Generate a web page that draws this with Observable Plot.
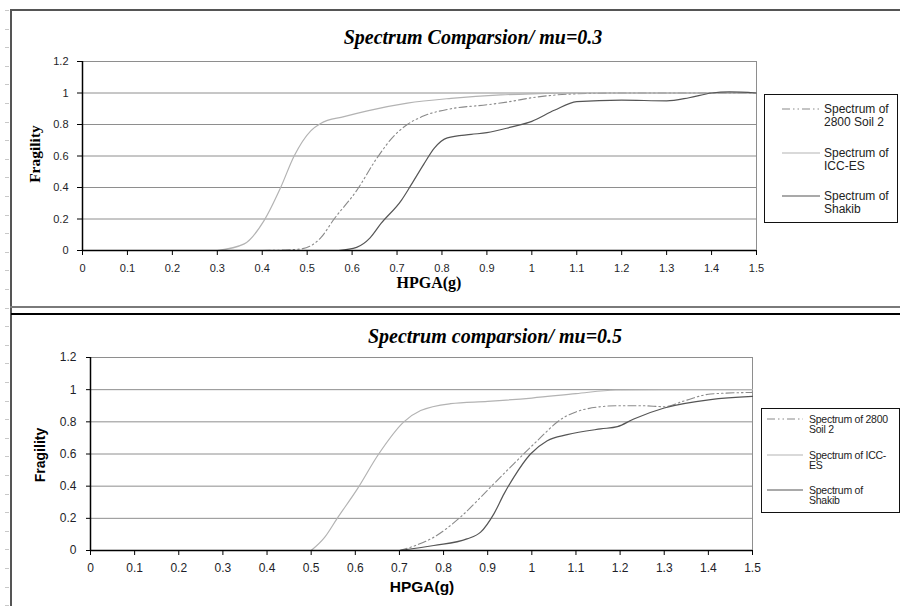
<!DOCTYPE html>
<html><head><meta charset="utf-8">
<script src="https://cdn.jsdelivr.net/npm/d3@7"></script>
<script src="https://cdn.jsdelivr.net/npm/@observablehq/plot@0.6"></script>
<style>
body{margin:0;background:#fff;}
#page{position:relative;width:900px;height:606px;overflow:hidden;background:#fff;font-family:"Liberation Sans",Arial,sans-serif;}
.abs{position:absolute;}
.title{font-family:"Liberation Serif","Times New Roman",serif;font-weight:bold;font-style:italic;font-size:20px;color:#000;white-space:nowrap;transform:translate(-50%,-50%);}
.legend{position:absolute;border:1.5px solid #111;background:#fff;box-sizing:border-box;}
.lg-item{position:absolute;color:#222;white-space:nowrap;}
</style></head><body><div id="page"></div>
<script>
// ---- Data ----
const seriesNames = ["Spectrum of 2800 Soil 2", "Spectrum of ICC-ES", "Spectrum of Shakib"];
const xTicks = [0, 0.1, 0.2, 0.3, 0.4, 0.5, 0.6, 0.7, 0.8, 0.9, 1, 1.1, 1.2, 1.3, 1.4, 1.5];
const xTickLabels = ["0","0.1","0.2","0.3","0.4","0.5","0.6","0.7","0.8","0.9","1","1.1","1.2","1.3","1.4","1.5"];
const yTicks = [0, 0.2, 0.4, 0.6, 0.8, 1, 1.2];
const yTickLabels = ["0","0.2","0.4","0.6","0.8","1","1.2"];

// mu = 0.3 (top)
const top_soil_x = [0.4, 0.45, 0.49, 0.53, 0.56, 0.61, 0.656, 0.694, 0.723, 0.76, 0.82, 0.9, 0.95, 1.0, 1.1, 1.2, 1.3, 1.4, 1.5];
const top_soil_y = [0, 0.003, 0.012, 0.08, 0.2, 0.38, 0.59, 0.73, 0.8, 0.855, 0.9, 0.925, 0.945, 0.97, 0.995, 1.0, 1.0, 1.0, 1.0];
const top_icc_x = [0.3, 0.36, 0.404, 0.441, 0.471, 0.508, 0.53, 0.582, 0.634, 0.723, 0.82, 0.931, 1.0, 1.1, 1.2, 1.3, 1.4, 1.5];
const top_icc_y = [0, 0.042, 0.19, 0.4, 0.6, 0.76, 0.807, 0.85, 0.887, 0.936, 0.966, 0.988, 0.995, 1.0, 1.0, 1.0, 1.0, 1.0];
const top_shk_x = [0.57, 0.61, 0.64, 0.664, 0.71, 0.73, 0.76, 0.783, 0.812, 0.865, 0.9, 0.953, 1.0, 1.05, 1.1, 1.2, 1.3, 1.35, 1.4, 1.44, 1.5];
const top_shk_y = [0, 0.02, 0.08, 0.17, 0.32, 0.41, 0.55, 0.65, 0.715, 0.737, 0.748, 0.783, 0.82, 0.89, 0.945, 0.955, 0.95, 0.97, 1.0, 1.007, 1.0];

// mu = 0.5 (bottom)
const bot_soil_x = [0.7, 0.74, 0.778, 0.838, 0.906, 0.959, 1.005, 1.073, 1.156, 1.194, 1.25, 1.3, 1.345, 1.405, 1.5];
const bot_soil_y = [0, 0.035, 0.083, 0.207, 0.393, 0.539, 0.663, 0.828, 0.894, 0.9, 0.9, 0.894, 0.93, 0.973, 0.983];
const bot_icc_x = [0.5, 0.53, 0.559, 0.604, 0.653, 0.71, 0.748, 0.816, 0.9, 1.0, 1.1, 1.19, 1.3, 1.4, 1.5];
const bot_icc_y = [0, 0.08, 0.2, 0.38, 0.6, 0.8, 0.87, 0.913, 0.927, 0.948, 0.975, 0.998, 1.0, 1.0, 1.0];
const bot_shk_x = [0.7, 0.778, 0.853, 0.884, 0.914, 0.937, 0.959, 0.997, 1.035, 1.08, 1.156, 1.194, 1.231, 1.3, 1.405, 1.5];
const bot_shk_y = [0, 0.031, 0.072, 0.114, 0.228, 0.352, 0.455, 0.6, 0.683, 0.72, 0.756, 0.77, 0.818, 0.886, 0.938, 0.958];

// ---- Styles ----
const styles = [
  {stroke: "#8a8a8a", strokeWidth: 1.1, dash: "8,3,1.5,3,1.5,3"},
  {stroke: "#b3b3b3", strokeWidth: 1.2, dash: null},
  {stroke: "#555555", strokeWidth: 1.2, dash: null}
];

const page = document.getElementById("page");
const zip = (xs, ys, s) => xs.map((x, i) => ({x, y: ys[i], s}));

function makeChart(opt) {
  const data = [
    zip(opt.soil[0], opt.soil[1], 0),
    zip(opt.icc[0], opt.icc[1], 1),
    zip(opt.shk[0], opt.shk[1], 2)
  ];
  const chart = Plot.plot({
    width: 760, height: 300,
    marginLeft: opt.ml, marginRight: opt.mr, marginTop: opt.mt, marginBottom: opt.mb,
    style: {background: "transparent", fontFamily: "Liberation Sans, Arial, sans-serif", fontSize: opt.fs, color: "#1e1e28", overflow: "visible"},
    x: {domain: [0, 1.5], label: null},
    y: {domain: [0, 1.2], label: null},
    marks: [
      Plot.ruleY(yTicks.filter(d => d > 0), {stroke: "#8e8e8e", strokeWidth: 1}),
      Plot.ruleX([1.5], {stroke: "#8e8e8e", strokeWidth: 1}),
      Plot.axisX({ticks: xTicks, tickFormat: d => xTickLabels[xTicks.indexOf(d)], tickSize: 5, tickPadding: opt.xpad, stroke: "#000", label: null}),
      Plot.axisY({ticks: yTicks, tickFormat: d => yTickLabels[yTicks.indexOf(d)], tickSize: opt.ytick, tickPadding: opt.ypad, stroke: "#000", label: null}),
      ...data.map((d, k) => Plot.line(d, {x: "x", y: "y", stroke: styles[k].stroke, strokeWidth: styles[k].strokeWidth, strokeDasharray: styles[k].dash, curve: "monotone-x"})),
      Plot.ruleY([0], {stroke: "#000", strokeWidth: 1.5}),
      Plot.ruleX([0], {stroke: "#000", strokeWidth: 1.5})
    ]
  });
  chart.style.position = "absolute";
  chart.style.left = "0px";
  chart.style.top = opt.top + "px";
  page.appendChild(chart);
}

makeChart({top: 0, ml: 82, mr: 4, mt: 61, mb: 50, fs: "11px", xpad: 9, ytick: 5, ypad: 9,
  soil: [top_soil_x, top_soil_y], icc: [top_icc_x, top_icc_y], shk: [top_shk_x, top_shk_y]});
makeChart({top: 306, ml: 90, mr: 8, mt: 51, mb: 56, fs: "12px", xpad: 8, ytick: 4, ypad: 10,
  soil: [bot_soil_x, bot_soil_y], icc: [bot_icc_x, bot_icc_y], shk: [bot_shk_x, bot_shk_y]});

function addText(txt, x, y, css, rotate) {
  const d = document.createElement("div");
  d.className = "abs";
  d.textContent = txt;
  d.style.left = x + "px"; d.style.top = y + "px";
  d.style.whiteSpace = "nowrap";
  d.style.transform = "translate(-50%,-50%)" + (rotate ? " rotate(-90deg)" : "");
  Object.assign(d.style, css);
  page.appendChild(d);
  return d;
}
const serifBold = {fontFamily: '"Liberation Serif","Times New Roman",serif', fontWeight: "bold", color: "#000"};
const sansBold = {fontFamily: '"Liberation Sans",Arial,sans-serif', fontWeight: "bold", color: "#000"};

// titles
addText("Spectrum Comparsion/ mu=0.3", 473, 37, {fontFamily: '"Liberation Serif","Times New Roman",serif', fontWeight: "bold", fontStyle: "italic", fontSize: "20px", color: "#000"});
addText("Spectrum comparsion/ mu=0.5", 495, 336, {fontFamily: '"Liberation Serif","Times New Roman",serif', fontWeight: "bold", fontStyle: "italic", fontSize: "20px", color: "#000"});
// axis labels
addText("Fragility", 35, 154, Object.assign({fontSize: "15.5px"}, serifBold), true);
addText("HPGA(g)", 429, 283, Object.assign({fontSize: "16px"}, serifBold));
addText("Fragility", 40, 455, Object.assign({fontSize: "14px"}, sansBold), true);
addText("HPGA(g)", 422, 587, Object.assign({fontSize: "15.5px"}, sansBold));

// legends
function addLegend(box, items) {
  const L = document.createElement("div");
  L.className = "legend";
  Object.assign(L.style, {left: box.x + "px", top: box.y + "px", width: box.w + "px", height: box.h + "px"});
  page.appendChild(L);
  items.forEach((it, k) => {
    const s = styles[k];
    const svg = document.createElementNS("http://www.w3.org/2000/svg", "svg");
    svg.setAttribute("width", box.sw); svg.setAttribute("height", 6);
    svg.style.position = "absolute";
    svg.style.left = box.sx + "px";
    svg.style.top = (box.ys[k] - 3) + "px";
    const ln = document.createElementNS("http://www.w3.org/2000/svg", "line");
    ln.setAttribute("x1", 0); ln.setAttribute("x2", box.sw); ln.setAttribute("y1", 3); ln.setAttribute("y2", 3);
    ln.setAttribute("stroke", s.stroke); ln.setAttribute("stroke-width", s.strokeWidth);
    if (s.dash) ln.setAttribute("stroke-dasharray", s.dash);
    svg.appendChild(ln);
    L.appendChild(svg);
    const t = document.createElement("div");
    t.className = "lg-item";
    t.innerHTML = it.join("<br>");
    Object.assign(t.style, {left: box.tx + "px", top: (box.ys[k] - box.lh / 2) + "px", fontSize: box.fs, lineHeight: box.lh + "px", letterSpacing: box.ls});
    L.appendChild(t);
  });
}
addLegend({x: 764, y: 94, w: 134, h: 129, sx: 17, sw: 38, tx: 59, ys: [14, 58, 101], fs: "12px", lh: 13, ls: "0px"},
  [["Spectrum of", "2800 Soil 2"], ["Spectrum of", "ICC-ES"], ["Spectrum of", "Shakib"]]);
addLegend({x: 761, y: 408, w: 139, h: 105, sx: 5, sw: 36, tx: 47, ys: [10, 46, 81], fs: "10.5px", lh: 10.8, ls: "-0.25px"},
  [["Spectrum of 2800", "Soil 2"], ["Spectrum of ICC-", "ES"], ["Spectrum of", "Shakib"]]);

// page frame lines
function addRect(x, y, w, h, c) {
  const d = document.createElement("div");
  d.className = "abs";
  Object.assign(d.style, {left: x + "px", top: y + "px", width: w + "px", height: h + "px", background: c});
  page.appendChild(d);
}
addRect(10, 9, 890, 2, "#555");
addRect(10, 9, 2, 597, "#555");
addRect(10, 306, 890, 2, "#7a7a7a");
addRect(11, 313, 889, 1.5, "#000");
for (let y = 10; y < 606; y += 18.6) addRect(5, Math.round(y), 4, 1, "#c8c8c8");
</script>
</body></html>
